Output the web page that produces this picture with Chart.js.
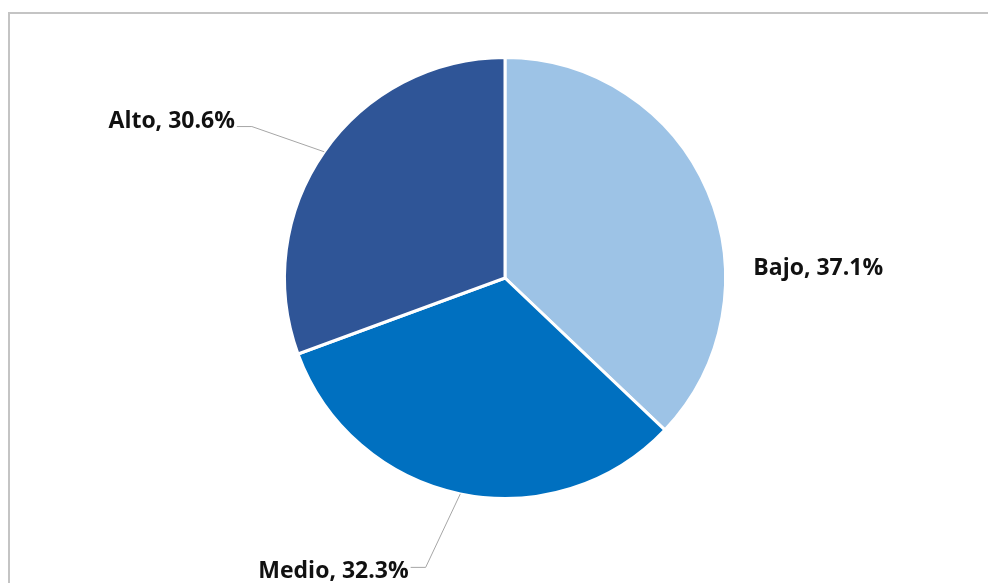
<!DOCTYPE html>
<html>
<head>
<meta charset="utf-8">
<script src="https://cdn.jsdelivr.net/npm/chart.js@4.4.1/dist/chart.umd.min.js"></script>
<style>
    html, body { margin: 0; padding: 0; background: #fff; overflow: hidden; }
    #myChart { display: block; }
</style>
</head>
<body>
<canvas id="myChart" width="988" height="583"></canvas>
<script>
const categories = ['Bajo', 'Medio', 'Alto'];
const shares = [37.1, 32.3, 30.6];
const sliceColors = ['#9dc3e6', '#0070c0', '#2f5597'];

// label baseline spot relative to the pie centre (in radii); lineY = leader height above baseline
const labelSpots = [
    { dx: 1.126, dy: -0.014, align: 'left', leader: false },
    { dx: -0.437, dy: 1.360, align: 'right', leader: true, lineY: 11 },
    { dx: -1.225, dy: -0.680, align: 'right', leader: true, lineY: 2 }
];

// grey chart-area edge along the top and left
const frameEdge = {
    id: 'frameEdge',
    beforeDraw(chart) {
        const ctx = chart.ctx;
        ctx.save();
        ctx.strokeStyle = '#c4c4c4';
        ctx.lineWidth = 2;
        ctx.beginPath();
        ctx.moveTo(9, chart.height);
        ctx.lineTo(9, 13);
        ctx.lineTo(chart.width, 13);
        ctx.stroke();
        ctx.restore();
    }
};

const pieLabels = {
    id: 'pieLabels',
    afterDatasetsDraw(chart) {
        const ctx = chart.ctx;
        const meta = chart.getDatasetMeta(0);
        ctx.save();
        ctx.font = 'bold 23px "Open Sans", sans-serif';
        ctx.fillStyle = '#111111';
        ctx.textBaseline = 'alphabetic';
        meta.data.forEach((arc, i) => {
            const p = arc.getProps(['x', 'y', 'startAngle', 'endAngle', 'outerRadius'], true);
            const r = p.outerRadius;
            const mid = (p.startAngle + p.endAngle) / 2;
            const ex = p.x + Math.cos(mid) * r;
            const ey = p.y + Math.sin(mid) * r;
            const s = labelSpots[i];
            const lx = p.x + s.dx * r;
            const ly = p.y + s.dy * r;
            ctx.textAlign = s.align;
            ctx.fillText(categories[i] + ', ' + shares[i].toFixed(1) + '%', lx, ly);
            if (s.leader) {
                const y0 = ly - s.lineY + 0.5;
                ctx.strokeStyle = '#a6a6a6';
                ctx.lineWidth = 1;
                ctx.beginPath();
                ctx.moveTo(lx + 2, y0);
                ctx.lineTo(lx + 17, y0);
                ctx.lineTo(ex, ey);
                ctx.stroke();
            }
        });
        ctx.restore();
    }
};

new Chart(document.getElementById('myChart'), {
    type: 'pie',
    data: {
        labels: categories,
        datasets: [{
            data: shares,
            backgroundColor: sliceColors,
            borderColor: '#ffffff',
            borderWidth: 3
        }]
    },
    options: {
        responsive: false,
        animation: false,
        layout: { padding: { left: 283, right: 261, top: 56, bottom: 83 } },
        plugins: {
            legend: { display: false },
            tooltip: { enabled: false }
        }
    },
    plugins: [frameEdge, pieLabels]
});
</script>
</body>
</html>
